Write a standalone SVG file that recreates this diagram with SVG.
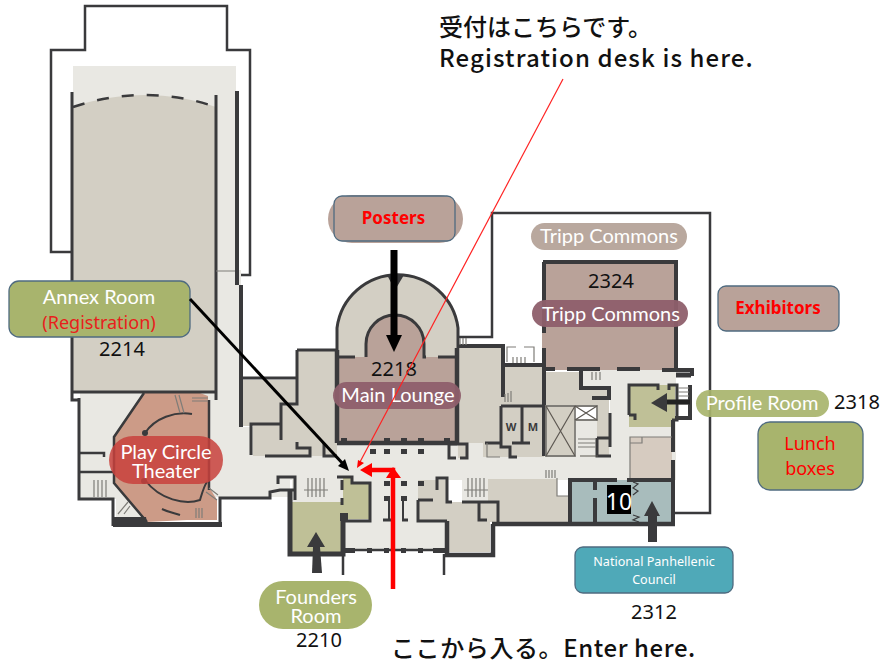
<svg xmlns="http://www.w3.org/2000/svg" width="892" height="665" viewBox="0 0 892 665">
<style>
.w{fill:none;stroke:#3a3a3c;stroke-linejoin:miter}
.g{fill:none;stroke:#7f7d78;stroke-width:1.2}
.d{fill:#3a3a3c}
.beige{fill:#d3cfc4}.light{fill:#e9e8e3}.rose{fill:#b9a299}.olive{fill:#bfc097}.teal{fill:#a8bcbc}
.pill{font-family:"Lato","Open Sans",sans-serif;fill:#fff;font-size:20px;text-anchor:middle}
.num{font-family:"Noto Sans","Open Sans",sans-serif;fill:#111;font-size:20px;text-anchor:middle}
.red{font-family:"Noto Sans","Open Sans",sans-serif;fill:#f00;font-weight:700;font-size:17px;text-anchor:middle}
.lb{font-family:"Noto Sans","Open Sans",sans-serif;fill:#f00;font-size:18px;text-anchor:middle}
.jp{font-family:"Noto Sans CJK JP",sans-serif;fill:#111;font-weight:500;font-size:24px}
.np{font-family:"Noto Sans",sans-serif;font-size:12.6px;fill:#fff;text-anchor:middle}
.sm{fill:#3a3a3c;font-family:"Noto Sans",sans-serif;font-size:11px;font-weight:700;text-anchor:middle}
.box{stroke:#4f6b80;stroke-width:1.3}
</style>
<rect width="892" height="665" fill="#fff"/>
<g id="plan">
  <path class="w" stroke-width="2.5" d="M71 252H51V50H85V6H227V50H250V275H236"/>
  <path class="w" stroke-width="2.5" d="M458 337H492V213H710V513H675"/>
  <g class="light">
    <rect x="73" y="66" width="163" height="225"/>
    <rect x="216" y="270" width="25" height="160"/>
    <rect x="80" y="393" width="136" height="106"/>
    <rect x="216" y="427" width="74" height="70"/>
    <rect x="240" y="440" width="432" height="40"/>
    <rect x="292" y="478" width="51" height="24"/>
    <rect x="345" y="478" width="103" height="72"/>
    <rect x="462" y="478" width="26" height="24"/>
    <rect x="610" y="370" width="66" height="110"/>
    <rect x="581" y="370" width="30" height="20"/>
    <rect x="575" y="420" width="24" height="37"/>
    <rect x="116" y="498" width="30" height="20"/>
  </g>
  <path class="beige" d="M72 107C120 91 170 91 216 107V392H72Z"/>
  <path class="beige" d="M243 380H296V403H282V456H253V426H243Z"/>
  <path class="beige" d="M282 456H337V350H298V404H282Z"/>
  <path class="beige" d="M457 348H503V365H544V457H483V443H467V458H458Z"/>
  <path class="beige" d="M546 372H581V388H609V455H597V405H575V456H546Z"/>
  <path class="beige" d="M337 357V328A61 61 0 0 1 458 328V357Z"/>
  <path class="rose" d="M337 357H366V344A29 29 0 0 1 424 344V357H457V443H337Z"/>
  <rect class="rose" x="542" y="264" width="134" height="106"/>
  <path class="olive" d="M629 385H675V427H629Z"/>
  <path d="M630 437H672V478H630Z" fill="#d6cbc0"/>
  <rect class="teal" x="570" y="480" width="103" height="44"/>
  <path class="beige" d="M488 479H557V496H568V522H488Z"/>
  <path class="beige" d="M418 480H446V502H497V522H490V552H449V522H418Z"/>
  <path class="olive" d="M292 502H343V552H292Z"/>
  <path class="olive" d="M343 477H352V483H369V519H343Z"/>
  <path d="M144 393H200L208 396V485L217 500V520H187L147 522L114 483V437Z" fill="#cc9b87"/>
  <g class="w" stroke-width="3">
    <path d="M72 92V392H216V95M72 392V400H79M216 392V400"/>
    <path stroke-width="2.5" stroke-dasharray="12 13" d="M73 107C120 91 170 91 216 107"/>
    <path d="M237 91V285M241 285V427" stroke-width="4"/>
    <path d="M79 398V499H113V526M220 526V498H270V492L280 490H294"/>
    <path stroke-width="5" d="M113 524.500H222"/>
    <path stroke-width="2.5" d="M79 453H104V457M79 472H113"/>
    <path stroke-width="2.5" d="M144 393L114 437V483L147 522"/>
    <path stroke-width="2" d="M145 433C155 418 175 411 192 414M145 480C160 500 185 505 200 500C203 490 204 486 207 482M162 509C170 513 175 513 180 515"/>
    <path stroke-width="2.5" d="M209 400V490"/>
    <path d="M241 378H296M297 350V404H281V440M297 350H337M251 455V424H281M265 456H310V448H297V442M324 443V456H337"/>
    <path stroke-width="4.5" d="M337 350V443M457 348V443M337 443H457"/>
    <path d="M337 357H355M366 357V344A29 29 0 0 1 424 344V357H426M438 357H457"/>
    <path d="M337 357V328A61 61 0 0 1 458 328V348"/>
    <path stroke-width="4" d="M457 346H503V365M503 365H544M503 365V397"/>
    <path stroke-width="4" d="M544 262V333M544 348V456M543 262H676V368"/>
    <path d="M501 406H544M501 406V447H510V457H517M522 406V443M512 443H530M485 443H500"/>
    <path stroke-width="4" d="M545 369H555M567 369H600M617 369H640M581 369V388H609V400M592 398H609M662 370H692V376"/>
    <path d="M610 413V447M597 438H610M597 438V456H611"/>
    <path d="M449 444H467V458H460M449 444V458H456"/>
    <path d="M629 415V385H658V390M669 390V385H677V420H672M629 415H635V420"/>
    <path stroke-width="4" d="M690 385V418H675M673 420V452M673 460V524"/>
    <path stroke-width="5" d="M676 375H691"/>
    <path stroke-width="4" d="M570 524V480H617M627 480H672M595 480V490M595 498V524"/>
    <path stroke-width="4.5" d="M492 524H675"/>
    <path d="M337 477H352V483H370V521H345V513M342 480V490M342 498V505"/>
    <path stroke-width="5" d="M290 490V554H343V520"/>
    <path d="M278 484V477H295V500"/>
    <path stroke-width="2.5" d="M345 550H446M343 554V575M444 554V575"/>
    <path d="M383 520H393M402 520H408M418 500V521H447M418 500H433"/>
    <path d="M437 490V478H447V502H452M462 502H498V525M479 502V520H487M479 502H479"/>
    <path stroke-width="4.5" d="M447 521V555H493V524"/>
    <path stroke-width="2" d="M389 500V520M403 500V520"/>
  </g>
  <g class="d">
    <path d="M113 517H146L147 522H220V527H113Z"/>
    <rect x="341" y="438" width="6" height="5"/><rect x="384" y="438" width="6" height="5"/><rect x="401" y="438" width="6" height="5"/><rect x="418" y="438" width="6" height="5"/><rect x="444" y="438" width="6" height="5"/>
    <rect x="370" y="449" width="6" height="5"/><rect x="384" y="449" width="6" height="5"/><rect x="401" y="449" width="6" height="5"/><rect x="418" y="449" width="6" height="5"/>
    <rect x="384" y="481" width="6" height="5"/><rect x="401" y="481" width="6" height="5"/><rect x="418" y="481" width="6" height="5"/>
    <rect x="384" y="496" width="6" height="5"/><rect x="401" y="496" width="6" height="5"/>
    <rect x="345" y="548" width="10" height="5"/><rect x="367" y="548" width="5" height="5"/><rect x="384" y="548" width="5" height="5"/><rect x="401" y="548" width="5" height="5"/><rect x="418" y="548" width="5" height="5"/><rect x="433" y="548" width="13" height="5"/>
    <rect x="340" y="513" width="8" height="8"/>
    <circle cx="145" cy="433" r="3"/><circle cx="144" cy="481" r="3"/>
  </g>
  <g class="g">
    <path d="M216 271H235M487 443V457H500M507 362V347H516M524 347H534V362M557 478V496H568M630 443H642V437M630 478V437H672"/>
    <path d="M546 406H575V456H546ZM575 406H597V420H575Z" stroke-width="1.8"/>
    <path d="M546 406L575 456M575 406L546 456M575 406L597 420M597 406L575 420M598 456H580" stroke="#5d5852"/>
    <path d="M308 478V497M312 478V497M316 478V497M320 478V497M324 478V497M304 490H328M468 478V497M472 478V497M476 478V497M480 478V497M484 478V497M464 490H488M460 338V345M463 338V345M466 338V345M513 363V357M517 363V357M521 363V357M525 363V357M505 402V394M508 402V393M511 402V391M546 470V478M549 470V478M552 470V478M555 470V478M592 372V380M596 372V380M600 372V380M678 388H689M678 392H689M678 396H689M678 400H689M678 404H689M578 439H596M578 443H596M578 447H596M175 395L180 413M179 395L184 413M192 398H208M192 401H208M196 508V518M199 508V518M202 508V518M94 480V497M98 480V497M102 480V497M106 480V497M118 514L128 502M124 514L130 506M206 492L217 500M209 488L218 495"/>
    <path d="M633 482L638 484L633 488L638 491L633 495M633 515L639 517L633 520L639 522" stroke="#3a3a3c"/>
  </g>
  <text class="sm" x="511" y="431">W</text>
  <text class="sm" x="533" y="431">M</text>
  <rect x="607" y="485" width="24" height="29" fill="#000"/>
</g>
<g id="connectors-under">
  <path d="M387 275H404L395 290Z" fill="#3a3a3c"/>
</g>
<g id="annex-room">
  <rect class="box" x="9" y="281" width="181" height="56" rx="10" fill="#a8b46d"/>
  <text class="pill" x="99" y="304">Annex Room</text>
  <text x="99" y="329" class="lb" style="fill:#e8201c">(Registration)</text>
  <text class="num" x="122" y="356">2214</text>
</g>
<g id="play-circle">
  <rect x="109" y="436" width="114" height="48" rx="24" fill="#c8413c" fill-opacity=".85"/>
  <text class="pill" x="166" y="459">Play Circle</text>
  <text class="pill" x="166" y="478">Theater</text>
</g>
<g id="posters">
  <rect x="328" y="195" width="135" height="48" rx="24" fill="#b9a299"/>
  <rect class="box" x="334" y="196" width="121" height="45" rx="8" fill="#b9a299"/>
  <text class="red" x="393.500" y="224">Posters</text>
</g>
<g id="main-lounge">
  <text class="num" x="394" y="376">2218</text>
  <rect x="333" y="382" width="128" height="27" rx="13.500" fill="#8e5f6c" fill-opacity=".95"/>
  <text class="pill" x="398" y="402">Main Lounge</text>
</g>
<g id="tripp-commons">
  <rect x="531" y="223" width="156" height="27" rx="13.500" fill="#b9a89e"/>
  <text class="pill" x="609" y="243">Tripp Commons</text>
  <text class="num" x="611" y="288">2324</text>
  <rect x="532" y="300" width="156" height="27" rx="13.500" fill="#8e5f6c" fill-opacity=".95"/>
  <text class="pill" x="611" y="321">Tripp Commons</text>
</g>
<g id="exhibitors">
  <rect class="box" x="718" y="286" width="121" height="45" rx="8" fill="#b9a299"/>
  <text class="red" x="778" y="314">Exhibitors</text>
</g>
<g id="profile-room">
  <rect x="696" y="390" width="133" height="27" rx="13.500" fill="#a8b46d" fill-opacity=".92"/>
  <text class="pill" x="762" y="410">Profile Room</text>
  <text class="num" x="857" y="409">2318</text>
</g>
<g id="lunch-boxes">
  <rect class="box" x="758" y="422" width="105" height="68" rx="12" fill="#a8b46d"/>
  <text class="lb" x="810" y="450">Lunch</text>
  <text class="lb" x="810" y="475">boxes</text>
</g>
<g id="room-10"><text x="619" y="510" style="font-family:'Noto Sans',sans-serif;font-size:23px;fill:#fff;text-anchor:middle">10</text></g>
<g id="panhellenic">
  <rect class="box" x="575" y="547" width="158" height="46" rx="8" fill="#4fa9b8" stroke-width="1"/>
  <text class="np" x="654" y="566">National Panhellenic</text>
  <text class="np" x="654" y="584">Council</text>
  <text class="num" x="654" y="619">2312</text>
</g>
<g id="founders-room">
  <rect x="259" y="581" width="113" height="48" rx="24" fill="#a8b46d"/>
  <text class="pill" x="316" y="604">Founders</text>
  <text class="pill" x="316" y="623">Room</text>
  <text class="num" x="319" y="647">2210</text>
</g>
<g id="callouts">
  <text class="jp" x="439" y="36">受付はこちらです。</text>
  <text class="jp" x="439" y="67" style="letter-spacing:1.1px">Registration desk is here.</text>
  <text class="jp" x="391" y="657" style="letter-spacing:.6px">ここから入る。Enter here.</text>
</g>
<g id="connectors">
  <path d="M563 79L360 462" stroke="#f22" stroke-width="1.2" fill="none"/>
  <path d="M357 468L358 460L364 463Z" fill="#f00"/>
  <path d="M190 299L345 466" stroke="#000" stroke-width="3" fill="none"/>
  <path d="M349 471L338 466L345 459Z" fill="#000"/>
  <path d="M394 250V338" stroke="#000" stroke-width="7" fill="none"/>
  <path d="M386 335L394 352L402 335Z" fill="#000"/>
  <path d="M393 589V470H372" stroke="#f00" stroke-width="4.500" fill="none"/>
  <path d="M360 470L372 463V477Z" fill="#f00"/>
  <path d="M386 478L393 467L401 478Z" fill="#f00"/>
  <path d="M690 402H666" stroke="#222" stroke-width="5" fill="none"/>
  <path d="M651 403L667 393V412Z" fill="#3a3a3c"/>
  <path d="M648 516H657L657 542H648Z" fill="#3a3a3c"/>
  <path d="M644 516L652 501L660 516Z" fill="#3a3a3c"/>
  <path d="M313 547H320L322 573H312Z" fill="#3a3a3c"/>
  <path d="M307 547L316 532L325 547Z" fill="#3a3a3c"/>
</g>
</svg>
